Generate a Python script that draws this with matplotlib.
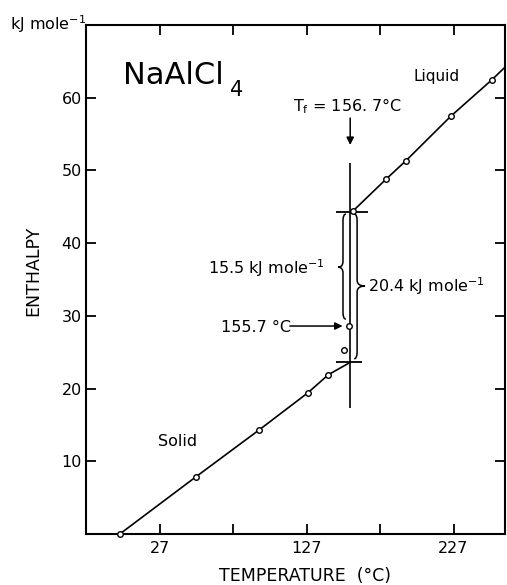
#!/usr/bin/env python

"""
Enthalpy of NaAlCl4 against temperature, across the melting point.
"""

import matplotlib
matplotlib.use("Agg")
import matplotlib.pyplot as plt
from matplotlib.path import Path
from matplotlib.patches import PathPatch

# Measured points (temperature in degC, enthalpy in kJ/mole)
solid_T = [0.0, 52.0, 95.0, 127.8, 141.8]
solid_H = [0.0, 7.9, 14.35, 19.4, 21.9]
premelt_T = [152.5, 155.9]
premelt_H = [25.3, 28.65]
liquid_T = [158.5, 181.1, 194.7, 225.1, 253.0]
liquid_H = [44.4, 48.8, 51.35, 57.45, 62.45]

# Melting point and the enthalpy jump
T_fus = 156.7
H_solid_end = 23.6
H_liquid_start = 44.3
H_bar = [17.3, 51.0]
liquid_line_end = (262.0, 64.2)

xticks = [27, 77, 127, 177, 227]
xticklabels = ["27", "", "127", "", "227"]
yticks = [10, 20, 30, 40, 50, 60]

FS = 11.5


def brace(ax, x0, y_top, y_bot, x_tip, y_mid, curl, r_end=0.9, r_mid=0.8):
    """Draw a curly brace along x0 between y_top and y_bot, pointing to x_tip."""
    verts = [
        (x0 + curl, y_top),
        (x0, y_top), (x0, y_top - r_end),
        (x0, y_mid + r_mid),
        (x0, y_mid), (x_tip, y_mid),
        (x0, y_mid), (x0, y_mid - r_mid),
        (x0, y_bot + r_end),
        (x0, y_bot), (x0 + curl, y_bot),
    ]
    codes = [Path.MOVETO,
             Path.CURVE3, Path.CURVE3,
             Path.LINETO,
             Path.CURVE3, Path.CURVE3,
             Path.CURVE3, Path.CURVE3,
             Path.LINETO,
             Path.CURVE3, Path.CURVE3]
    ax.add_patch(PathPatch(Path(verts, codes), fill=False, lw=1.1, ec="k"))


def plot_enthalpy():
    fig = plt.figure(figsize=(5.07, 5.85), dpi=100)
    ax = fig.add_axes([86 / 507, 1 - 534 / 585, 419 / 507, 509 / 585])

    # lines through the points
    ax.plot(solid_T + [T_fus], solid_H + [H_solid_end], c="k", lw=1.2)
    ax.plot(liquid_T + [liquid_line_end[0]], liquid_H + [liquid_line_end[1]],
            c="k", lw=1.2, clip_on=False)
    ax.plot(solid_T + premelt_T + liquid_T, solid_H + premelt_H + liquid_H,
            ls="none", marker="o", ms=4, mfc="white", mec="k", mew=1.0,
            clip_on=False, zorder=5)

    # melting bar
    ax.vlines(T_fus, H_bar[0], H_bar[1], color="k", lw=1.2)
    ax.hlines(H_liquid_start, 147, 168.8, color="k", lw=1.3)
    ax.hlines(H_solid_end, 147, 165, color="k", lw=1.3)

    # braces
    brace(ax, 151.8, H_liquid_start - 0.3, premelt_H[1] + 0.9, 148.4, 36.7, 2.0)
    brace(ax, 161.4, H_liquid_start - 0.3, H_solid_end + 0.5, 166.8, 34.1, -2.0)

    # labels in the plot
    ax.text(2.2, 61.9, "NaAlCl", fontsize=22, va="baseline", ha="left")
    ax.text(75.0, 60.2, "4", fontsize=15, va="baseline", ha="left")
    ax.text(215.4, 62.9, "Liquid", fontsize=11, va="center", ha="center")
    ax.text(39.2, 12.7, "Solid", fontsize=FS, va="center", ha="center")
    ax.text(154.9, 58.2, r"T$_\mathregular{f}$ = 156. 7°C", fontsize=FS,
            va="baseline", ha="center")
    ax.annotate("", xy=(T_fus, 53.5), xytext=(T_fus, 57.2),
                arrowprops=dict(arrowstyle="-|>", color="k", lw=1.1,
                                mutation_scale=11, shrinkA=0, shrinkB=0))
    ax.text(139.6, 35.8, r"15.5 kJ mole$^{\mathregular{-1}}$", fontsize=FS,
            va="baseline", ha="right")
    ax.text(168.8, 33.3, r"20.4 kJ mole$^{\mathregular{-1}}$", fontsize=FS,
            va="baseline", ha="left")
    ax.text(68.5, 27.8, "155.7 °C", fontsize=FS, va="baseline", ha="left")
    ax.annotate("", xy=(151.5, 28.6), xytext=(115.7, 28.6),
                arrowprops=dict(arrowstyle="-|>", color="k", lw=1.1,
                                mutation_scale=11, shrinkA=0, shrinkB=0))

    # axes
    ax.set_xlim(-23, 262)
    ax.set_ylim(0, 70)
    ax.set_xticks(xticks)
    ax.set_xticklabels(xticklabels)
    ax.set_yticks(yticks)
    ax.tick_params(direction="in", length=7, width=1.3, labelsize=FS,
                   top=True, right=True)
    ax.tick_params(axis="x", pad=5)
    ax.tick_params(axis="y", pad=3)
    for s in ax.spines.values():
        s.set_linewidth(1.5)

    fig.text(10 / 507, 1 - 30 / 585, r"kJ mole$^{\mathregular{-1}}$", fontsize=FS,
             va="baseline", ha="left")
    fig.text(33 / 507, 1 - 271 / 585, "ENTHALPY", fontsize=12.5, rotation=90,
             va="center", ha="center")
    fig.text(305 / 507, 1 - 576 / 585, "TEMPERATURE  (°C)", fontsize=12.5,
             va="center", ha="center")

    fig.savefig("out.png", dpi=100)


if __name__ == "__main__":
    plot_enthalpy()
